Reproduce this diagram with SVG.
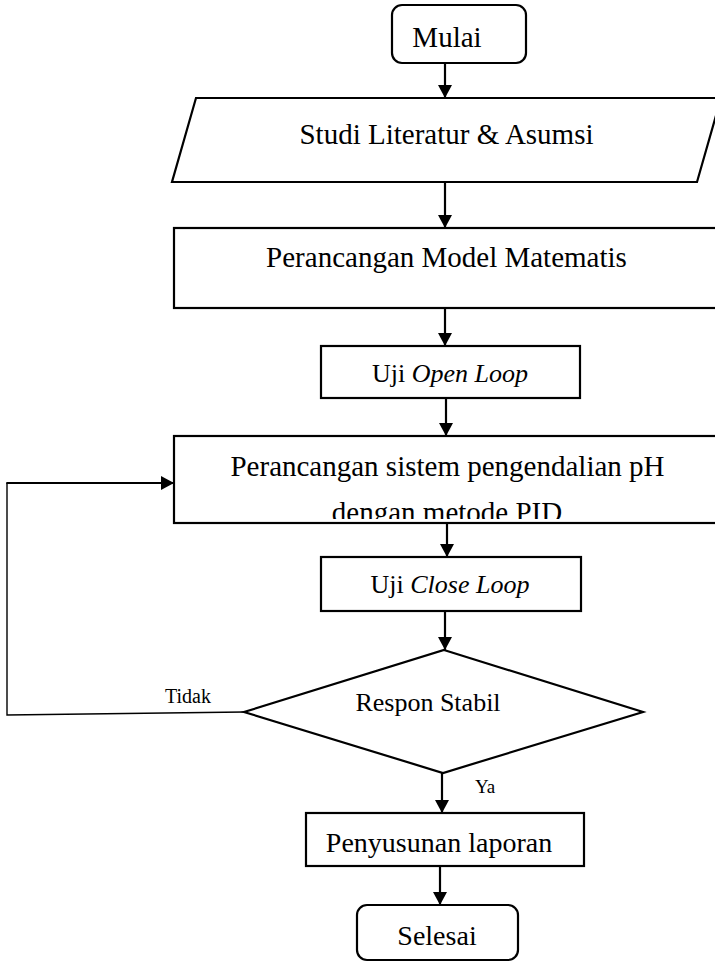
<svg xmlns="http://www.w3.org/2000/svg" width="715" height="962" viewBox="0 0 715 962">
<style>
.s{fill:#fff;stroke:#000;stroke-width:2.2}
.t{font-family:"Liberation Serif","Times New Roman",serif;fill:#000;text-anchor:middle}
.c{stroke:#000;stroke-width:2.2;fill:none}
.thin{stroke:#000;stroke-width:1.4;fill:none}
</style>
<defs>
<marker id="ah" markerWidth="14" markerHeight="14" refX="13" refY="7" orient="auto" markerUnits="userSpaceOnUse">
<path d="M0,0 L13,7 L0,14 Z" fill="#000"/>
</marker>
<clipPath id="clipPid"><rect x="174" y="436" width="541" height="83"/></clipPath>
</defs>
<rect width="715" height="962" fill="#fff"/>
<g id="mulai">
<rect class="s" x="392" y="5" width="134" height="58" rx="10"/>
<text class="t" x="447" y="47" font-size="29">Mulai</text>
</g>
<g id="studi">
<polygon class="s" points="196,98 721,98 697,182 172,182"/>
<text class="t" x="446.5" y="144" font-size="29">Studi Literatur &amp; Asumsi</text>
</g>
<g id="model">
<rect class="s" x="174" y="228" width="560" height="80"/>
<text class="t" x="446.5" y="267" font-size="29">Perancangan Model Matematis</text>
</g>
<g id="openloop">
<rect class="s" x="321" y="346" width="259" height="52"/>
<text class="t" x="450" y="382" font-size="26">Uji <tspan font-style="italic">Open Loop</tspan></text>
</g>
<g id="pid">
<rect class="s" x="174" y="436" width="560" height="87"/>
<text class="t" x="447.5" y="476" font-size="29">Perancangan sistem pengendalian pH</text>
<text class="t" x="447" y="522" font-size="29" clip-path="url(#clipPid)">dengan metode PID</text>
</g>
<g id="closeloop">
<rect class="s" x="321" y="557" width="260" height="54"/>
<text class="t" x="450" y="593" font-size="26">Uji <tspan font-style="italic">Close Loop</tspan></text>
</g>
<g id="respon">
<polygon class="s" points="444,650 643,712 443,773 244,712"/>
<text class="t" x="428" y="711" font-size="26">Respon Stabil</text>
</g>
<g id="laporan">
<rect class="s" x="306" y="813" width="278" height="53"/>
<text class="t" x="439" y="852" font-size="28">Penyusunan laporan</text>
</g>
<g id="selesai">
<rect class="s" x="357" y="905" width="161" height="55" rx="10"/>
<text class="t" x="437" y="945" font-size="28">Selesai</text>
</g>
<g id="connectors">
<line class="c" x1="445" y1="63" x2="445" y2="98" marker-end="url(#ah)"/>
<line class="c" x1="445" y1="182" x2="445" y2="228" marker-end="url(#ah)"/>
<line class="c" x1="445" y1="308" x2="445" y2="346" marker-end="url(#ah)"/>
<line class="c" x1="446" y1="398" x2="446" y2="436" marker-end="url(#ah)"/>
<line class="c" x1="447" y1="523" x2="447" y2="557" marker-end="url(#ah)"/>
<line class="c" x1="445" y1="611" x2="445" y2="650" marker-end="url(#ah)"/>
<line class="c" x1="442" y1="773" x2="442" y2="813" marker-end="url(#ah)"/>
<line class="c" x1="440" y1="866" x2="440" y2="905" marker-end="url(#ah)"/>
<polyline class="thin" points="244,712 7,715 7,483"/>
<line class="c" x1="6.3" y1="483" x2="174" y2="483" marker-end="url(#ah)"/>
<text x="165" y="703" font-size="20" font-family="Liberation Serif,Times New Roman,serif">Tidak</text>
<text x="475" y="793" font-size="19" font-family="Liberation Serif,Times New Roman,serif">Ya</text>
</g>
</svg>
